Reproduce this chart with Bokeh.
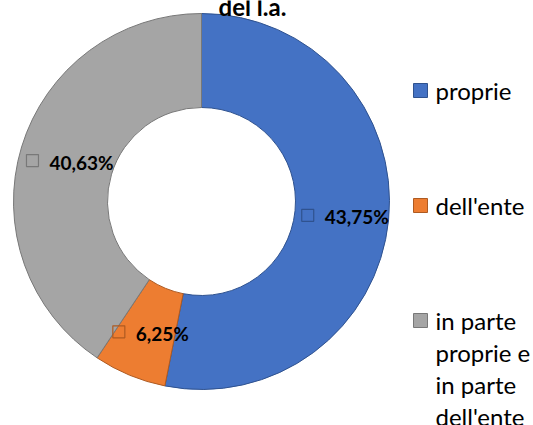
import math
from bokeh.plotting import figure
from bokeh.models import Range1d
from bokeh.embed import file_html
from bokeh.resources import INLINE
from bokeh.core.properties import value

# ---- data ----
title_text = "del l.a."
categories = ["proprie", "dell'ente", "in parte proprie e in parte dell'ente"]
legend_labels = ["proprie", "dell'ente", "in parte\nproprie e\nin parte\ndell'ente"]
values = [53.12, 6.25, 40.63]
data_labels = ["43,75%", "6,25%", "40,63%"]

# ---- styles ----
fill_colors = ["#4472C4", "#ED7D31", "#A5A5A5"]
edge_colors = ["#2F528F", "#AE5A21", "#787878"]
FONT = "Lato"

W, H = 533, 425
CX, CY = 201, H - 201
R_OUT, R_IN = 188, 94
R_MID = (R_OUT + R_IN) / 2

p = figure(width=W, height=H, output_backend="svg", toolbar_location=None,
           x_axis_location=None, y_axis_location=None, min_border=0,
           x_range=Range1d(0, W), y_range=Range1d(0, H))
p.outline_line_color = None
p.grid.visible = False
p.background_fill_color = "white"
p.border_fill_color = "white"

total = sum(values)
starts, ends, mids = [], [], []
cum = 0.0
for v in values:
    a0 = math.pi / 2 - 2 * math.pi * cum / total
    cum += v
    a1 = math.pi / 2 - 2 * math.pi * cum / total
    starts.append(a0)
    ends.append(a1)
    mids.append((a0 + a1) / 2)

p.annular_wedge(x=[CX] * 3, y=[CY] * 3, inner_radius=R_IN, outer_radius=R_OUT,
                start_angle=starts, end_angle=ends, direction="clock",
                fill_color=fill_colors, line_color=edge_colors, line_width=1)

# data labels: small hollow square + bold percentage
sq_x, sq_y, tx_x, tx_y = [], [], [], []
for m, lab in zip(mids, data_labels):
    lx = CX + R_MID * math.cos(m)
    ly = CY + R_MID * math.sin(m)
    half = 12 + 5.35 * len(lab)
    sq_x.append(lx - half + 10)
    sq_y.append(ly)
    tx_x.append(lx - half + 27)
    tx_y.append(ly - 1.5)

p.scatter(x=sq_x, y=sq_y, marker="square", size=12, fill_alpha=0,
          line_color=edge_colors, line_width=1.2)
p.text(x=tx_x, y=tx_y, text=data_labels, text_font=value(FONT),
       text_font_style="bold", text_font_size="19px", text_color="black",
       text_align="left", text_baseline="middle")

# legend
LEG_X, LEG_Y0, LEG_STEP, LINE_STEP = 420, 90, 115, 32
lg_x, lg_y, lt_x, lt_y, lt_text = [], [], [], [], []
for i, lab in enumerate(legend_labels):
    ys = LEG_Y0 + i * LEG_STEP
    lg_x.append(LEG_X)
    lg_y.append(H - ys)
    for j, line in enumerate(lab.split("\n")):
        lt_x.append(LEG_X + 15)
        lt_y.append(H - (ys + j * LINE_STEP))
        lt_text.append(line)

p.scatter(x=lg_x, y=lg_y, marker="square", size=14, fill_color=fill_colors,
          line_color=edge_colors, line_width=1)
p.text(x=lt_x, y=lt_y, text=lt_text, text_font=value(FONT),
       text_font_size="24px", text_color="#000000",
       text_align="left", text_baseline="middle")

# title (only the last line is visible)
p.text(x=[252], y=[H - 6], text=[title_text], text_font=value(FONT),
       text_font_style="bold", text_font_size="24px", text_color="black",
       text_align="center", text_baseline="alphabetic")

open("out.html", "w").write(file_html(p, INLINE))
